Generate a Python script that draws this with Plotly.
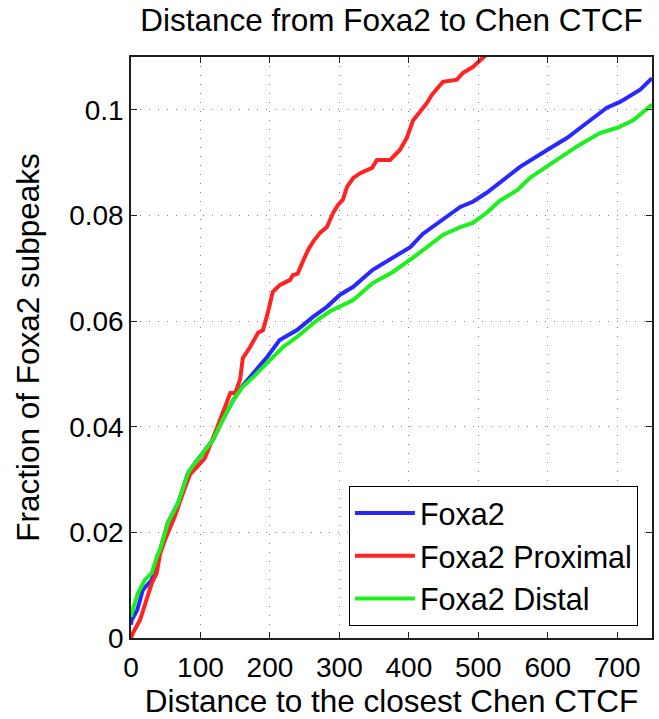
import plotly.graph_objects as go

# ---- data ----
foxa2_x = [0, 1, 9, 17, 30, 37, 43, 53, 68, 82, 92, 106, 118, 132, 147, 161, 176, 196,
           214, 239, 262, 282, 301, 320, 348, 373, 402, 420, 445, 474, 492, 512, 531,
           560, 599, 628, 656, 685, 704, 733, 750]
foxa2_y = [0.0025, 0.0034, 0.0053, 0.0091, 0.0110, 0.0145, 0.0170, 0.0218, 0.0256, 0.0312,
           0.0331, 0.0356, 0.0375, 0.0413, 0.0450, 0.0478, 0.0502, 0.0532, 0.0564, 0.0583,
           0.0608, 0.0627, 0.0650, 0.0665, 0.0697, 0.0716, 0.0740, 0.0765, 0.0788, 0.0816,
           0.0826, 0.0843, 0.0862, 0.0892, 0.0924, 0.0947, 0.0975, 0.1004, 0.1015, 0.1038,
           0.1060]

prox_x = [0, 3, 13, 23, 30, 37, 42, 49, 63, 75, 85, 95, 106, 117, 132, 143, 150, 157, 161,
          171, 183, 190, 197, 204, 214, 229, 233, 240, 248, 255, 262, 272, 282, 291, 298,
          305, 311, 320, 330, 347, 354, 373, 387, 397, 406, 416, 426, 433, 449, 469, 478,
          492, 505, 512]
prox_y = [0.0, 0.0010, 0.0034, 0.0072, 0.0104, 0.0123, 0.0160, 0.0186, 0.0230, 0.0275,
          0.0310, 0.0324, 0.0340, 0.0375, 0.0426, 0.0464, 0.0464, 0.0489, 0.0530, 0.0550,
          0.0578, 0.0583, 0.0616, 0.0655, 0.0668, 0.0678, 0.0687, 0.0690, 0.0715, 0.0735,
          0.0750, 0.0767, 0.0778, 0.0805, 0.0820, 0.0830, 0.0854, 0.0871, 0.0880, 0.0890,
          0.0905, 0.0905, 0.0924, 0.0947, 0.0980, 0.0996, 0.1013, 0.1028, 0.1053, 0.1057,
          0.1070, 0.1081, 0.1095, 0.1105]

dist_x = [0, 1, 10, 20, 30, 37, 43, 53, 68, 82, 92, 106, 118, 132, 147, 161, 176, 200,
          219, 239, 268, 286, 301, 320, 348, 377, 406, 426, 449, 474, 492, 512, 531, 556,
          574, 607, 646, 675, 700, 723, 750]
dist_y = [0.0040, 0.0047, 0.0085, 0.0110, 0.0123, 0.0153, 0.0172, 0.0218, 0.0256, 0.0312,
          0.0331, 0.0356, 0.0375, 0.0413, 0.0450, 0.0476, 0.0494, 0.0526, 0.0551, 0.0570,
          0.0602, 0.0618, 0.0627, 0.0640, 0.0672, 0.0693, 0.0720, 0.0740, 0.0763, 0.0778,
          0.0786, 0.0805, 0.0828, 0.0848, 0.0871, 0.0900, 0.0934, 0.0956, 0.0966, 0.0980,
          0.1010]

x_ticks = [0, 100, 200, 300, 400, 500, 600, 700]
y_ticks = [0, 0.02, 0.04, 0.06, 0.08, 0.1]
y_tick_labels = ["0", "0.02", "0.04", "0.06", "0.08", "0.1"]

FONT = "Liberation Sans, Arial, Helvetica, sans-serif"

fig = go.Figure()
fig.add_trace(go.Scatter(x=foxa2_x, y=foxa2_y, mode="lines", name="Foxa2",
                         line=dict(color="rgb(40,40,255)", width=4)))
fig.add_trace(go.Scatter(x=prox_x, y=prox_y, mode="lines", name="Foxa2 Proximal",
                         line=dict(color="rgb(255,35,35)", width=4)))
fig.add_trace(go.Scatter(x=dist_x, y=dist_y, mode="lines", name="Foxa2 Distal",
                         line=dict(color="rgb(30,240,30)", width=4)))

axis_common = dict(
    showline=True, linecolor="rgb(30,30,30)", linewidth=1.5, mirror="allticks",
    ticks="inside", ticklen=6, tickwidth=1, tickcolor="rgb(30,30,30)",
    showgrid=True, gridcolor="rgb(130,130,130)", griddash="1px,8px", gridwidth=1,
    zeroline=False, tickfont=dict(family=FONT, size=28, color="black"),
)

fig.update_xaxes(range=[0, 750], tickvals=x_ticks, **axis_common, ticklabelstandoff=4,
                 title=dict(text="Distance to the closest Chen CTCF",
                            font=dict(family=FONT, size=31.5, color="black"), standoff=0))
fig.update_yaxes(range=[0, 0.11], tickvals=y_ticks, ticktext=y_tick_labels, **axis_common,
                 title=dict(text="Fraction of Foxa2 subpeaks",
                            font=dict(family=FONT, size=31.5, color="black"), standoff=20))

fig.update_layout(
    width=659, height=719,
    margin=dict(l=131, r=5, t=57, b=81),
    paper_bgcolor="white", plot_bgcolor="white",
    title=dict(text="Distance from Foxa2 to Chen CTCF", x=0.5, xref="paper",
               y=0.972, yref="container", yanchor="middle",
               font=dict(family=FONT, size=31.5, color="black")),
    legend=dict(x=0.973, y=0.021, xanchor="right", yanchor="bottom",
                bgcolor="white", bordercolor="black", borderwidth=1,
                itemwidth=60,
                font=dict(family=FONT, size=30.5, color="black")),
    showlegend=True,
)

fig.write_html("out.html")
